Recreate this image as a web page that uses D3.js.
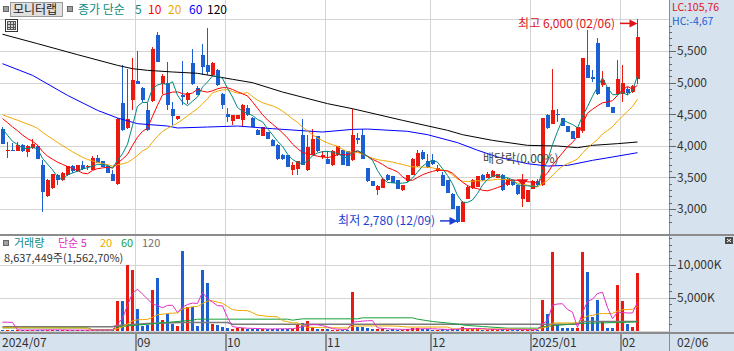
<!DOCTYPE html>
<html>
<head>
<meta charset="utf-8">
<script src="https://d3js.org/d3.v7.min.js"></script>
<style>
  body { margin: 0; background: #fff; }
  text { font-family: "Noto Sans CJK KR", sans-serif; }
</style>
</head>
<body>
<script>
const width = 734
const height = 351
const plotRight = 669
const pricePanelBottom = 235
const axisTop = 333

const upColor = "#ea1a10"
const downColor = "#1b5fd3"
const gridColor = "#d4d4d4"
const panelColor = "#d7e2ef"
const latinFont = "\"Liberation Sans\", \"Noto Sans CJK KR\", sans-serif"

// daily candles, 2024/07 .. 2025/02/06
const opens = [4270,3920,3935,3925,4005,3900,3965,3995,3700,3205, 3330,3545,3455,3535,3675,3595,3700,3665,3620,3805,
  3755,3680,3555,3390,4680,4280,4720,5020,4920,4570, 4705,5750,4985,5000,4585,4420,4810,4730,5315,4915,
  5430,5285,5115,5200,4825,4510,4385,4430,4405,4600, 4440,4245,4155,4215,4095,4020,3860,3850,3610,3640,
  4175,3610,3860,4155,3830,3785,3690,3850,3930,3920, 3770,4125,4165,3650,3440,3295,3330,3545,3515,3455,
  3295,3440,3545,3675,3900,3755,3770,3595,3535,3455, 3245,3050,2795,3160,3330,3350,3535,3495,3505,3490,
  3535,3375,3455,3375,3165,3110,3320,3440,3375,4490, 4350,4500,4440,4315,4230,4125,4230,5285,5090,5620,
  4965,4930,4615,4825,4825,4905,4850,5050]
const highs = [4290,4060,4050,4060,4030,4005,4110,4005,3770,3480, 3560,3550,3580,3680,3690,3695,3755,3700,3845,3855,
  3760,3690,3610,4440,5275,5210,5390,5495,4930,4675, 5560,5800,5140,5325,4690,4475,5340,4850,5535,4945,
  5605,5860,5330,5210,4830,4600,4495,4485,4660,4640, 4450,4260,4300,4220,4100,4025,3865,3855,3745,3755,
  4420,4175,4270,4160,3910,3910,3930,4000,3935,3925, 4590,4210,4270,3655,3445,3385,3485,3550,3520,3460,
  3380,3540,3800,3930,3930,3875,3875,3700,3585,3460, 3250,3055,3120,3375,3480,3525,3560,3580,3620,3555,
  3560,3485,3460,3380,3550,3300,3455,3480,4445,4510, 5220,4590,4445,4320,4235,4305,5390,5825,5195,5700,
  5180,4935,4620,5350,5285,4930,4960,6000]
const lows = [4030,3800,3910,3910,3900,3820,3950,3790,2950,3190, 3320,3385,3440,3530,3575,3590,3615,3620,3610,3720,
  3660,3570,3440,3380,4240,4270,4560,4980,4700,4240, 4700,5320,4825,4560,4325,4410,4640,4665,4955,4800,
  5115,5115,5110,4950,4585,4375,4335,4425,4320,4470, 4295,4170,4150,4105,3990,3780,3780,3660,3545,3535,
  3690,3595,3850,3905,3785,3715,3685,3845,3695,3675, 3765,4035,3785,3435,3360,3215,3325,3450,3410,3315,
  3290,3435,3540,3670,3770,3650,3690,3585,3360,3255, 3000,2780,2790,3155,3320,3345,3440,3490,3500,3485,
  3290,3370,3370,3225,3030,3105,3315,3360,3370,4270, 4345,4375,4310,4215,4105,4120,4200,5070,5010,4800,
  4930,4610,4515,4810,4695,4800,4830,4985]
const closes = [4035,3930,3925,4015,3915,3995,4035,3795,3270,3455, 3550,3455,3575,3675,3595,3690,3630,3675,3805,3735,
  3665,3575,3450,4430,4245,4430,5045,4985,4720,4245, 5535,5325,5100,4640,4470,4465,4770,4835,4985,4810,
  5245,5170,5315,4955,4650,4455,4490,4480,4650,4480, 4300,4175,4295,4110,3995,3785,3785,3665,3690,3755,
  3690,3980,4100,3910,3860,3715,3910,3995,3700,3680, 4165,4085,3795,3440,3365,3360,3480,3455,3415,3320,
  3375,3535,3795,3885,3795,3665,3715,3650,3365,3260, 3005,2795,3110,3350,3455,3520,3455,3560,3595,3550,
  3295,3480,3375,3230,3455,3295,3440,3375,4440,4280, 4560,4480,4315,4220,4110,4300,5390,5075,5050,4825,
  5035,4615,4520,5050,5000,4840,4945,5720]
// volume in thousand shares
const volumes = [90,60,70,80,60,70,90,80,150,100, 80,60,70,80,60,70,60,50,90,70,
  60,60,100,4495,4495,9920,9170,3230,707,860, 6100,8000,1565,2475,960,707,12040,3485,3585,707,
  9170,7150,960,808,555,350,300,350,450,250, 250,200,200,250,300,300,250,250,300,860,
  1210,1465,555,250,200,250,150,150,100,100, 5800,555,555,350,200,300,200,150,200,150,
  150,200,350,350,250,200,150,150,200,150, 200,250,555,300,200,250,150,150,200,150,
  250,150,100,150,150,100,100,150,4646,2475, 11940,860,350,350,350,450,11940,8910,2070,4646,
  1364,450,450,6890,4495,960,520,8637]

// the 19 sessions before the window (needed by the 5/10/20 day averages)
const closesBefore = [4500,4520,4540,4560,4580,4600,4570,4550,4540,4540,4560,4600,4620,4590,4580,4450,4400,4270,4195]
const volumesBefore = [150,150,150,150,150,150,150,150,150,150,150,150,150,150,150,150,150,5800,150]

// long averages: [session index, value]
const priceMa60 = [[0,5299],[6,5115],[13,4798],[19,4561],[23,4440],[27,4350],[33,4313],[35,4282],[41,4297],[47,4313],
  [54,4271],[64,4218],[70,4260],[73,4265],[81,4229],[85,4176],[91,4050],[95,3930],[99,3823],[105,3717],
  [109,3680],[113,3690],[118,3770],[122,3823],[127,3891]]
const priceMa120 = [[0,5765],[7,5616],[15,5442],[23,5273],[26,5220],[29,5194],[34,5168],[39,5147],[46,5052],[50,4999],
  [56,4851],[65,4667],[70,4587],[80,4403],[89,4245],[92,4176],[98,4086],[105,4007],[111,3997],[115,3970],
  [118,4007],[123,4034],[127,4060]]
const volMa60 = [[0,404],[17,404],[18,100],[22,100],[23,555],[29,960],[38,1566],[39,1717],[57,1717],[58,1566],
  [60,1768],[71,1768],[72,1919],[82,1919],[83,1717],[86,1364],[90,1060],[93,758],[96,606],[101,354],
  [107,354],[108,555],[110,707],[115,1060],[123,1212],[127,1313]]
const volMa120 = [[0,555],[22,555],[23,760],[29,1060],[36,1212],[45,1212],[46,960],[115,960],[116,1364],[127,1364]]

const monthLabels = ["2024/07", "09", "10", "11", "12", "2025/01", "02"]
const monthStarts = [0, 27, 45, 65, 86, 106, 124]
const priceTicks = [3000, 3500, 4000, 4500, 5000, 5500]
const volumeTicks = [5000, 10000]

const highIndex = 127, lowIndex = 91, exDivIndex = 104

function movingAverage(values, before, n) {
  const all = before.concat(values)
  return values.map((v, i) => d3.mean(all.slice(i + before.length - n + 1, i + before.length + 1)))
}

const svg = d3.select("body").append("svg").attr("width", width).attr("height", height)

const x = d3.scaleBand().domain(d3.range(closes.length)).range([0, 640])
const xc = (i) => x(i) + x.bandwidth() / 2
const y = d3.scaleLinear().domain([3000, 5500]).range([209, 51])
const yv = d3.scaleLinear().domain([0, 10000]).range([330.5, 264.5])

// panels
svg.append("rect").attr("x", plotRight).attr("y", 0).attr("width", width - plotRight).attr("height", height).attr("fill", panelColor)
svg.append("rect").attr("x", 0).attr("y", axisTop).attr("width", width).attr("height", height - axisTop).attr("fill", panelColor)

const grid = svg.append("g").attr("stroke", gridColor).attr("shape-rendering", "crispEdges")
d3.range(3000, 6001, 500).forEach(p => {
  grid.append("line").attr("x1", 0).attr("x2", plotRight).attr("y1", Math.round(y(p)) + 0.5).attr("y2", Math.round(y(p)) + 0.5)
})
volumeTicks.forEach(v => {
  grid.append("line").attr("x1", 0).attr("x2", plotRight).attr("y1", Math.round(yv(v)) + 0.5).attr("y2", Math.round(yv(v)) + 0.5)
})
grid.append("line").attr("x1", 0).attr("x2", plotRight).attr("y1", 331.5).attr("y2", 331.5)
monthStarts.slice(1).forEach(i => {
  grid.append("line").attr("x1", x(i) + 0.5).attr("x2", x(i) + 0.5).attr("y1", 0).attr("y2", axisTop)
})

// candles
const candles = svg.append("g").attr("shape-rendering", "crispEdges")
closes.forEach((c, i) => {
  const col = c >= opens[i] ? upColor : downColor
  candles.append("line").attr("x1", xc(i)).attr("x2", xc(i))
    .attr("y1", y(highs[i])).attr("y2", y(lows[i])).attr("stroke", col)
  const top = y(Math.max(c, opens[i])), bot = y(Math.min(c, opens[i]))
  candles.append("rect").attr("x", x(i) + 0.5).attr("width", 4)
    .attr("y", top).attr("height", Math.max(1, bot - top)).attr("fill", col)
})

// price averages
const priceLine = d3.line().x((d, i) => xc(i)).y(d => y(d))
const pointLine = (scale) => d3.line().x(d => xc(d[0])).y(d => scale(d[1]))
const maLayer = svg.append("g").attr("fill", "none").attr("stroke-width", 1)
maLayer.append("path").attr("d", pointLine(y)(priceMa120)).attr("stroke", "#000")
maLayer.append("path").attr("d", pointLine(y)(priceMa60)).attr("stroke", "#0000ff")
maLayer.append("path").attr("d", priceLine(movingAverage(closes, closesBefore, 20))).attr("stroke", "#f0a800")
maLayer.append("path").attr("d", priceLine(movingAverage(closes, closesBefore, 10))).attr("stroke", "#ff0000")
maLayer.append("path").attr("d", priceLine(movingAverage(closes, closesBefore, 5))).attr("stroke", "#00877f")

// volume bars
const bars = svg.append("g").attr("shape-rendering", "crispEdges")
volumes.forEach((v, i) => {
  bars.append("rect").attr("x", x(i) + 1).attr("width", 3)
    .attr("y", yv(v)).attr("height", yv(0) - yv(v))
    .attr("fill", closes[i] >= opens[i] ? upColor : downColor)
})
const volLine = d3.line().x((d, i) => xc(i)).y(d => yv(d))
const vmaLayer = svg.append("g").attr("fill", "none").attr("stroke-width", 1)
vmaLayer.append("path").attr("d", pointLine(yv)(volMa120)).attr("stroke", "#7a7a7a").attr("stroke-width", 1.5)
vmaLayer.append("path").attr("d", pointLine(yv)(volMa60)).attr("stroke", "#16a03a")
vmaLayer.append("path").attr("d", volLine(movingAverage(volumes, volumesBefore, 20))).attr("stroke", "#f0a800")
vmaLayer.append("path").attr("d", volLine(movingAverage(volumes, volumesBefore, 5))).attr("stroke", "#e02fc4")

// separators
const sep = svg.append("g").attr("stroke", "#8c8c8c").attr("shape-rendering", "crispEdges")
sep.append("line").attr("x1", 0).attr("x2", width).attr("y1", pricePanelBottom).attr("y2", pricePanelBottom).attr("stroke-width", 2)
sep.append("line").attr("x1", 0).attr("x2", width).attr("y1", axisTop).attr("y2", axisTop).attr("stroke-width", 2)
sep.append("line").attr("x1", plotRight + 0.5).attr("x2", plotRight + 0.5).attr("y1", 0).attr("y2", height)
monthStarts.slice(1).forEach(i => {
  sep.append("line").attr("x1", x(i) + 0.5).attr("x2", x(i) + 0.5).attr("y1", axisTop).attr("y2", height).attr("stroke-width", 2)
})

// right axes
const priceAxis = svg.append("g").attr("transform", `translate(${plotRight},0)`)
  .call(d3.axisRight(y).tickValues(d3.range(2800, 6000, 100).filter(p => p % 500 != 0)).tickSize(3).tickFormat(""))
priceAxis.select(".domain").remove()
const priceAxisMajor = svg.append("g").attr("transform", `translate(${plotRight},0)`)
  .call(d3.axisRight(y).tickValues(priceTicks).tickSize(7).tickPadding(1).tickFormat(d3.format(",")))
priceAxisMajor.select(".domain").remove()
const volAxis = svg.append("g").attr("transform", `translate(${plotRight},0)`)
  .call(d3.axisRight(yv).tickValues(d3.range(0, 15000, 1000).filter(v => v % 5000 != 0)).tickSize(3).tickFormat(""))
volAxis.select(".domain").remove()
const volAxisMajor = svg.append("g").attr("transform", `translate(${plotRight},0)`)
  .call(d3.axisRight(yv).tickValues(volumeTicks).tickSize(7).tickPadding(1).tickFormat(d => d3.format(",")(d) + "K"))
volAxisMajor.select(".domain").remove()
svg.selectAll(".tick line").attr("stroke", "#666").attr("shape-rendering", "crispEdges")
svg.selectAll(".tick text").attr("font-size", 12).attr("fill", "#333")
  .attr("font-family", "\"Noto Sans CJK KR\", sans-serif")

// x axis labels
monthLabels.forEach((m, k) => {
  svg.append("text").attr("x", x(monthStarts[k]) + 2).attr("y", 346.5)
    .attr("font-size", 12).attr("fill", "#333").text(m)
})
svg.append("text").attr("x", 677).attr("y", 346.5)
  .attr("font-size", 12).attr("fill", "#333").text("02/06")

// legends
svg.append("rect").attr("x", 3.5).attr("y", 6.5).attr("width", 5).attr("height", 5).attr("fill", "#a0a0a0").attr("stroke", "#666")
svg.append("rect").attr("x", 10.5).attr("y", 2.5).attr("width", 52).attr("height", 14).attr("fill", "#e0e0e0").attr("stroke", "#9a9a9a")
svg.append("text").attr("x", 13).attr("y", 14).attr("font-size", 12).attr("fill", "#222").text("모니터랩")
svg.append("rect").attr("x", 67.5).attr("y", 6.5).attr("width", 5).attr("height", 5).attr("fill", "#a0a0a0").attr("stroke", "#666")
const priceLegend = [["종가 단순", "#0d8a80", 78], ["5", "#0d8a80", 135], ["10", "#ff0000", 148], ["20", "#f0a800", 168], ["60", "#0000ff", 189], ["120", "#000", 207]]
priceLegend.forEach(([t, c, px]) => {
  svg.append("text").attr("x", px).attr("y", 14).attr("font-size", 12).attr("fill", c).text(t)
})
// small table icon
const icon = svg.append("g").attr("shape-rendering", "crispEdges")
icon.append("rect").attr("x", 5.5).attr("y", 19.5).attr("width", 12).attr("height", 12).attr("fill", "#fff").attr("stroke", "#333")
icon.append("rect").attr("x", 7.5).attr("y", 21.5).attr("width", 8).attr("height", 8).attr("fill", "#cfcfcf").attr("stroke", "#555")
icon.append("line").attr("x1", 10.5).attr("x2", 10.5).attr("y1", 21.5).attr("y2", 29.5).attr("stroke", "#555")
icon.append("line").attr("x1", 13.5).attr("x2", 13.5).attr("y1", 21.5).attr("y2", 29.5).attr("stroke", "#555")
icon.append("line").attr("x1", 7.5).attr("x2", 15.5).attr("y1", 24.5).attr("y2", 24.5).attr("stroke", "#555")
icon.append("line").attr("x1", 7.5).attr("x2", 15.5).attr("y1", 27.5).attr("y2", 27.5).attr("stroke", "#555")

svg.append("rect").attr("x", 3.5).attr("y", 240.5).attr("width", 5).attr("height", 5).attr("fill", "#a0a0a0").attr("stroke", "#666")
const volLegend = [["거래량", "#0d8a80", 14], ["단순 5", "#e02fc4", 58], ["20", "#f0a800", 100], ["60", "#16a03a", 121], ["120", "#707070", 142]]
volLegend.forEach(([t, c, px]) => {
  svg.append("text").attr("x", px).attr("y", 246.5).attr("font-size", 11).attr("fill", c).text(t)
})
svg.append("text").attr("x", 4).attr("y", 262).attr("font-size", 11).attr("fill", "#333")
  .attr("font-family", latinFont).text("8,637,449주(1,562,70%)")
svg.append("rect").attr("x", 725).attr("y", 237).attr("width", 8).attr("height", 7).attr("fill", "#4a4a4a")
svg.append("path").attr("d", "M727,239L731,242M731,239L727,242").attr("stroke", "#fff").attr("stroke-width", 1)

svg.append("text").attr("x", 672).attr("y", 11).attr("font-size", 10.5).attr("fill", "#e0141a")
  .attr("font-family", "\"Liberation Sans\", sans-serif").text("LC:105,76")
svg.append("text").attr("x", 672).attr("y", 25).attr("font-size", 10.5).attr("fill", "#1b5fd3")
  .attr("font-family", "\"Liberation Sans\", sans-serif").text("HC:-4,67")

// high / low markers
const hx = xc(highIndex), hy = y(highs[highIndex]) + 4
svg.append("text").attr("x", 615).attr("y", hy + 4.5).attr("text-anchor", "end")
  .attr("font-size", 12).attr("fill", "#e0141a").text("최고 6,000 (02/06)")
svg.append("line").attr("x1", 620).attr("x2", hx - 6).attr("y1", hy).attr("y2", hy).attr("stroke", "#e0141a").attr("stroke-width", 1.5)
svg.append("path").attr("d", `M${hx - 8},${hy - 4}L${hx},${hy}L${hx - 8},${hy + 4}Z`).attr("fill", "#e0141a")

const lx = xc(lowIndex), ly = y(lows[lowIndex]) - 2
svg.append("text").attr("x", 435).attr("y", ly + 4.5).attr("text-anchor", "end")
  .attr("font-size", 12).attr("fill", "#1b3fd3").text("최저 2,780 (12/09)")
svg.append("line").attr("x1", 440).attr("x2", lx - 6).attr("y1", ly).attr("y2", ly).attr("stroke", "#1b3fd3").attr("stroke-width", 1.5)
svg.append("path").attr("d", `M${lx - 8},${ly - 4}L${lx},${ly}L${lx - 8},${ly + 4}Z`).attr("fill", "#1b3fd3")

// ex-dividend marker
const ex = xc(exDivIndex), ey = y(highs[exDivIndex]) + 5
svg.append("path").attr("d", `M${ex - 6},${ey}L${ex + 6},${ey}L${ex},${ey + 6}Z`).attr("fill", "#e0141a")
svg.append("text").attr("x", 483).attr("y", 162.5)
  .attr("font-size", 12).attr("fill", "#444").text("배당락(0.00%)")
</script>
</body>
</html>
